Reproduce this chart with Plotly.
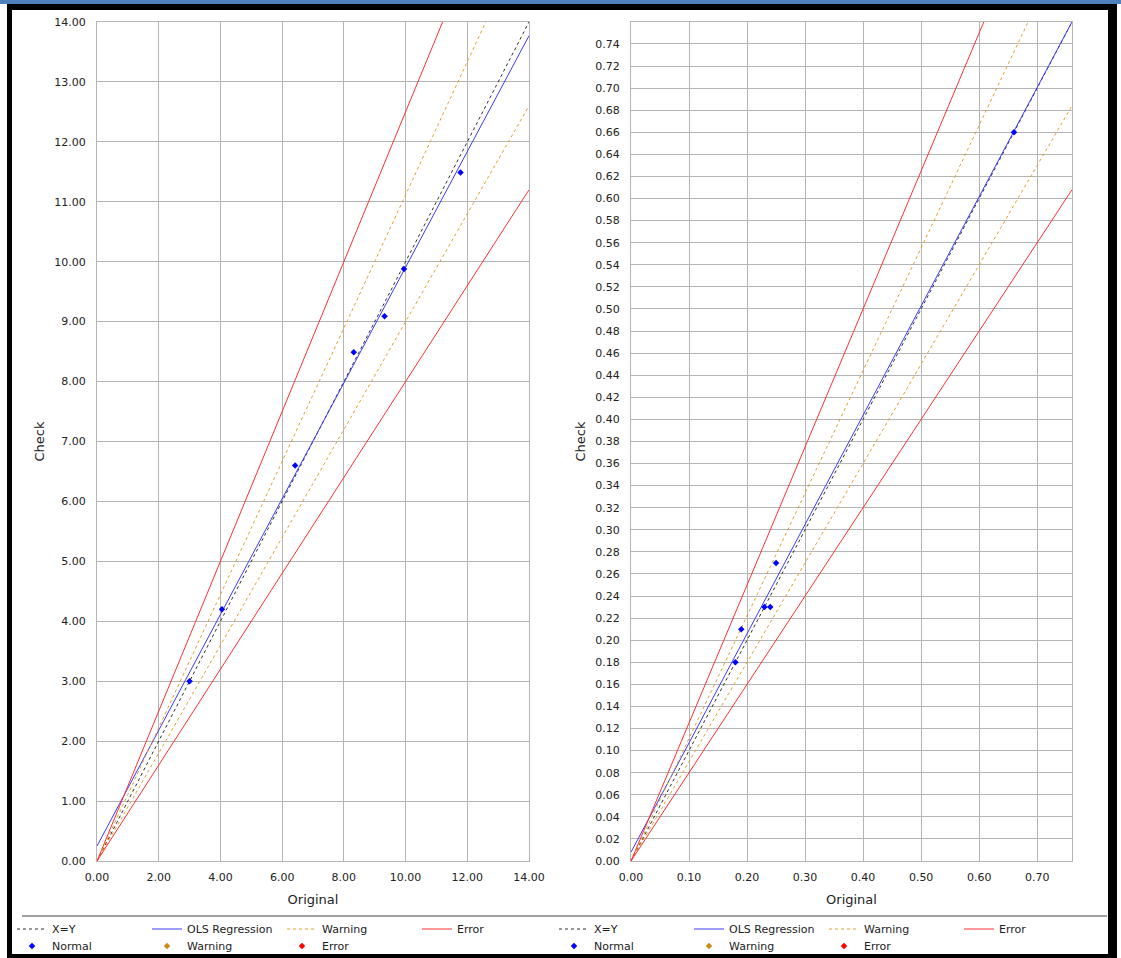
import plotly.graph_objects as go

W, H = 1121, 958

# left chart (absolute values)
abs_x = [3.0, 4.05, 6.42, 8.32, 9.32, 9.95, 11.78]
abs_y = [3.0, 4.2, 6.6, 8.49, 9.09, 9.88, 11.49]
abs_line_x = [0, 14]
abs_xy = [0, 14]
abs_ols = [0.25, 13.77]
abs_warn_hi = [0, 15.56]
abs_warn_lo = [0, 12.6]
abs_err_hi = [0, 17.5]
abs_err_lo = [0, 11.2]

# right chart (ratios)
rel_x = [0.18, 0.19, 0.23, 0.24, 0.25, 0.66]
rel_y = [0.18, 0.21, 0.23, 0.23, 0.27, 0.66]
rel_line_x = [0, 0.76]
rel_xy = [0, 0.76]
rel_ols = [0.008, 0.76]
rel_warn_hi = [0, 0.844]
rel_warn_lo = [0, 0.684]
rel_err_hi = [0, 0.95]
rel_err_lo = [0, 0.608]

BLACK = '#303030'
BLUE = '#3a3aff'
ORANGE = '#e0a030'
RED = '#ff3030'
FONT = 'DejaVu Sans'


def px(x):
    return x / W


def py(y):
    return 1 - y / H


fig = go.Figure()


def add_chart(xa, ya, lx, xy, ols, whi, wlo, ehi, elo, nx, ny, leg1, leg2):
    fig.add_trace(go.Scatter(x=lx, y=xy, mode='lines', name='X=Y', xaxis=xa, yaxis=ya,
                             line=dict(color=BLACK, width=1, dash='3px,3px'), legend=leg1))
    fig.add_trace(go.Scatter(x=lx, y=ols, mode='lines', name='OLS Regression', xaxis=xa, yaxis=ya,
                             line=dict(color=BLUE, width=1), legend=leg1))
    fig.add_trace(go.Scatter(x=lx, y=whi, mode='lines', name='Warning', xaxis=xa, yaxis=ya,
                             line=dict(color=ORANGE, width=1, dash='3px,3px'), legend=leg1,
                             legendgroup=leg1 + 'w'))
    fig.add_trace(go.Scatter(x=lx, y=wlo, mode='lines', name='Warning', xaxis=xa, yaxis=ya,
                             line=dict(color=ORANGE, width=1, dash='3px,3px'), legend=leg1,
                             legendgroup=leg1 + 'w', showlegend=False))
    fig.add_trace(go.Scatter(x=lx, y=ehi, mode='lines', name='Error', xaxis=xa, yaxis=ya,
                             line=dict(color=RED, width=1), legend=leg1, legendgroup=leg1 + 'e'))
    fig.add_trace(go.Scatter(x=lx, y=elo, mode='lines', name='Error', xaxis=xa, yaxis=ya,
                             line=dict(color=RED, width=1), legend=leg1, legendgroup=leg1 + 'e',
                             showlegend=False))
    fig.add_trace(go.Scatter(x=nx, y=ny, mode='markers', name='Normal', xaxis=xa, yaxis=ya,
                             marker=dict(symbol='diamond', size=5, color='#0000ff'), legend=leg2))
    fig.add_trace(go.Scatter(x=[None], y=[None], mode='markers', name='Warning', xaxis=xa, yaxis=ya,
                             marker=dict(symbol='diamond', size=5, color='#cc8a1a'), legend=leg2))
    fig.add_trace(go.Scatter(x=[None], y=[None], mode='markers', name='Error', xaxis=xa, yaxis=ya,
                             marker=dict(symbol='diamond', size=5, color='#ff0000'), legend=leg2))


add_chart('x', 'y', abs_line_x, abs_xy, abs_ols, abs_warn_hi, abs_warn_lo, abs_err_hi, abs_err_lo,
          abs_x, abs_y, 'legend', 'legend2')
add_chart('x2', 'y2', rel_line_x, rel_xy, rel_ols, rel_warn_hi, rel_warn_lo, rel_err_hi, rel_err_lo,
          rel_x, rel_y, 'legend3', 'legend4')

axis_common = dict(showgrid=True, gridcolor='#b4b4b4', gridwidth=1, showline=True, linecolor='#b4b4b4',
                   linewidth=1, mirror=True, zeroline=False, ticks='', automargin=False,
                   tickfont=dict(family=FONT, size=11, color='#222222'), tickformat='.2f')

fig.update_layout(
    width=W, height=H,
    # legends sit near the bottom edge; keep them from pushing the margins
    margin=dict(l=0, r=0, t=0, b=0, autoexpand=False),
    paper_bgcolor='white', plot_bgcolor='white',
    font=dict(family=FONT, size=11, color='#222222'),
    xaxis=dict(axis_common, domain=[px(97), px(529)], range=[0, 14], dtick=2, anchor='y',
               ticklabelstandoff=6,
               title=dict(text='Original', font=dict(size=13), standoff=11)),
    yaxis=dict(axis_common, domain=[py(861), py(22)], range=[0, 14], dtick=1, anchor='x',
               ticklabelstandoff=8,
               title=dict(text='Check', font=dict(size=13), standoff=6)),
    xaxis2=dict(axis_common, domain=[px(631), px(1072)], range=[0, 0.76], dtick=0.1, anchor='y2',
                ticklabelstandoff=6,
                title=dict(text='Original', font=dict(size=13), standoff=11)),
    yaxis2=dict(axis_common, domain=[py(861), py(22)], range=[0, 0.7599], dtick=0.02, anchor='x2',
                ticklabelstandoff=8,
                title=dict(text='Check', font=dict(size=13), standoff=6)),
)

leg = dict(orientation='h', xanchor='left', yanchor='middle', entrywidth=90, entrywidthmode='pixels',
           bgcolor='rgba(0,0,0,0)', font=dict(family=FONT, size=11, color='#222222'),
           traceorder='normal', borderwidth=0)
fig.update_layout(
    legend=dict(leg, x=px(12), y=py(929)),
    legend2=dict(leg, x=px(12), y=py(946)),
    legend3=dict(leg, x=px(554), y=py(929)),
    legend4=dict(leg, x=px(554), y=py(946)),
)

# window frame and legend separator
fig.add_shape(type='rect', xref='paper', yref='paper', x0=0, x1=1, y0=py(4), y1=1,
              fillcolor='#4f81bd', line_width=0)
fig.add_shape(type='rect', xref='paper', yref='paper', x0=px(7), x1=px(1117), y0=py(4), y1=py(10),
              fillcolor='black', line_width=0)
fig.add_shape(type='rect', xref='paper', yref='paper', x0=px(7), x1=px(12), y0=0, y1=py(4),
              fillcolor='black', line_width=0)
fig.add_shape(type='rect', xref='paper', yref='paper', x0=px(1108), x1=px(1117), y0=0, y1=py(4),
              fillcolor='black', line_width=0)
fig.add_shape(type='rect', xref='paper', yref='paper', x0=px(7), x1=px(1117), y0=0, y1=py(954),
              fillcolor='black', line_width=0)
fig.add_shape(type='line', xref='paper', yref='paper', x0=px(22), x1=px(1107), y0=py(916), y1=py(916),
              line=dict(color='#a0a0a0', width=2))

# page body has a default margin; drop it so the figure fills the window
fig.write_html('out.html', config={'displayModeBar': False},
               post_script="document.body.style.margin='0';")
